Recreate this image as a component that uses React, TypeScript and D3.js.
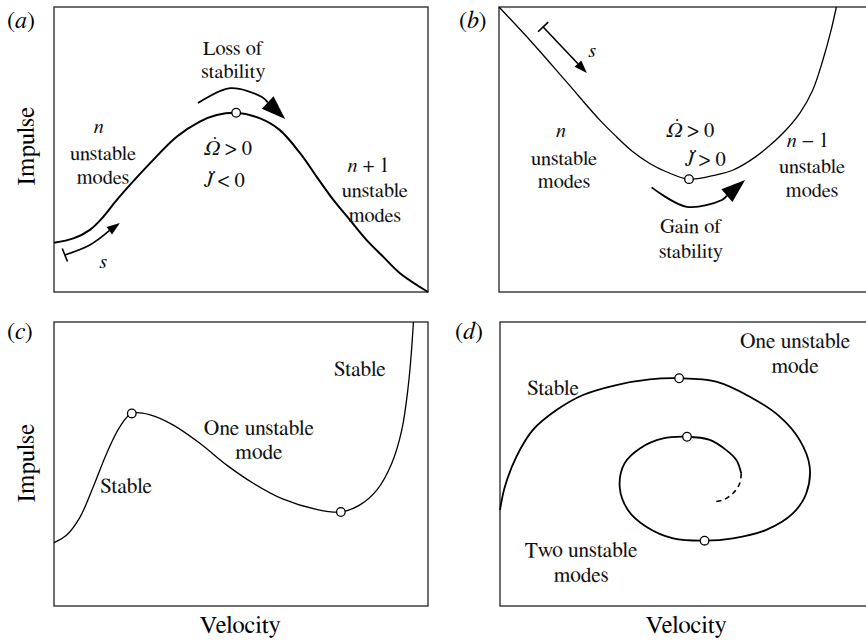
import React from "react";
import * as d3 from "d3";

type Pt = [number, number];

// Solution branches, in normalised (velocity, impulse) units 0–100 per panel
const branchA: Pt[] = [
  [0, 17.3], [5.2, 18.8], [9.6, 21.8], [13.2, 26.4], [16.8, 32.3], [25.7, 45.2],
  [32.8, 54.5], [39.0, 59.8], [43.5, 62.1], [48.7, 62.9], [55.1, 60.9], [60.4, 56.8],
  [65.8, 48.7], [70.2, 40.5], [74.7, 32.3], [79.1, 25.3], [83.6, 18.2], [88.0, 12.4],
  [92.5, 6.6], [100, 0],
];
const branchB: Pt[] = [
  [0, 100], [9.0, 87.3], [18.0, 73.8], [26.9, 60.4], [31.4, 54.5], [35.8, 49.2],
  [40.3, 45.1], [44.7, 42.2], [50.8, 39.6], [58.1, 41.1], [62.6, 42.8], [67.0, 46.0],
  [71.5, 50.4], [75.9, 55.7], [80.4, 62.7], [83.9, 70.9], [86.6, 81.4], [88.8, 91.9],
  [90.2, 100],
];
const branchC: Pt[] = [
  [0, 22.3], [3.4, 25.0], [7.0, 31.4], [10.5, 42.0], [14.1, 53.8], [17.6, 63.1],
  [20.8, 67.8], [25.7, 67.3], [31.9, 63.7], [39.0, 57.3], [46.2, 49.6], [53.3, 43.2],
  [61.3, 37.6], [70.2, 34.0], [76.7, 33.1], [81.8, 35.6], [86.3, 40.8], [90.3, 50.2],
  [93.0, 62.0], [94.7, 77.2], [95.6, 90.1], [96.1, 100],
];
const spiralD: Pt[] = [
  [0, 33.8], [1.3, 42.0], [4.4, 52.6], [8.8, 62.0], [15.1, 69.0], [22.2, 74.3],
  [31.1, 77.8], [40.0, 79.8], [47.9, 80.2], [57.8, 79.0], [66.8, 73.7], [74.8, 66.7],
  [80.1, 58.5], [82.8, 49.1], [81.9, 39.7], [78.3, 32.6], [71.2, 26.8], [62.3, 23.8],
  [54.7, 23.0], [46.3, 23.8], [39.1, 27.9], [34.2, 33.8], [32.0, 42.0], [33.3, 50.2],
  [37.4, 55.5], [43.6, 59.0], [50.0, 59.6], [56.1, 58.5], [60.5, 54.9], [63.2, 51.4],
  [64.5, 46.7],
];
const spiralDTail: Pt[] = [[64.5, 46.7], [64.1, 43.2], [62.3, 39.7], [59.6, 37.3], [57.4, 36.7]];

// Turning points (stability changes)
const turnsA: Pt[] = [[48.7, 62.9]];
const turnsB: Pt[] = [[50.8, 39.6]];
const turnsC: Pt[] = [[20.8, 67.8], [76.7, 33.1]];
const turnsD: Pt[] = [[47.9, 80.2], [54.7, 23.0], [50.0, 59.6]];

// Annotation arrows
const lossArrow: Pt[] = [[38.5, 66.3], [47.1, 71.5], [55.6, 68.4], [61.8, 60.7]];
const gainArrow: Pt[] = [[40.8, 36.7], [50.2, 29.9], [59.6, 32.3], [65.8, 39.3]];
const arcLengthA: Pt[] = [[2.9, 13.0], [9.6, 16.5], [17.6, 24.2]];
const arcLengthB: Pt[] = [[11.8, 93.0], [23.5, 76.8]];

const FONT = "FreeSerif, 'Liberation Serif', 'Times New Roman', serif";

interface Frame { x0: number; x1: number; y0: number; y1: number }
const frames: Record<string, Frame> = {
  a: { x0: 54, x1: 428, y0: 7, y1: 292 },
  b: { x0: 499, x1: 873, y0: 7, y1: 292 },
  c: { x0: 54, x1: 428, y0: 322, y1: 606 },
  d: { x0: 500, x1: 874, y0: 322, y1: 606 },
};

function scales(f: Frame) {
  const x = d3.scaleLinear().domain([0, 100]).range([f.x0, f.x1]);
  const y = d3.scaleLinear().domain([0, 100]).range([f.y1, f.y0]);
  return { x, y };
}

const lineGen = (x: d3.ScaleLinear<number, number>, y: d3.ScaleLinear<number, number>) =>
  d3.line<Pt>().x((d) => x(d[0])).y((d) => y(d[1])).curve(d3.curveCatmullRom.alpha(0.5));

function Arrow({ pts, f, len, hw, sw, tbar }: { pts: Pt[]; f: Frame; len: number; hw: number; sw: number; tbar?: boolean }) {
  const { x, y } = scales(f);
  const px: [number, number][] = pts.map((p) => [x(p[0]), y(p[1])]);
  const tip = px[px.length - 1];
  const prev = px[px.length - 2];
  const dx = tip[0] - prev[0], dy = tip[1] - prev[1];
  const L = Math.hypot(dx, dy);
  const ux = dx / L, uy = dy / L;
  const base: [number, number] = [tip[0] - ux * len, tip[1] - uy * len];
  const shaft = [...px.slice(0, -1), base];
  const path = d3.line().curve(d3.curveCatmullRom.alpha(0.5))(shaft as [number, number][]) || "";
  const head = [
    tip,
    [base[0] - uy * hw, base[1] + ux * hw],
    [base[0] + uy * hw, base[1] - ux * hw],
  ];
  let bar = null;
  if (tbar) {
    const s0 = px[0], s1 = px[1];
    const bx = s1[0] - s0[0], by = s1[1] - s0[1];
    const bl = Math.hypot(bx, by);
    const nx = -by / bl, ny = bx / bl;
    bar = (
      <line x1={s0[0] + nx * 7} y1={s0[1] + ny * 7} x2={s0[0] - nx * 7} y2={s0[1] - ny * 7}
        stroke="#000" strokeWidth={sw} />
    );
  }
  return (
    <g>
      <path d={path} fill="none" stroke="#000" strokeWidth={sw} />
      <polygon points={head.map((p) => p.join(",")).join(" ")} fill="#000" />
      {bar}
    </g>
  );
}

function Branch({ pts, f, sw, dash }: { pts: Pt[]; f: Frame; sw: number; dash?: string }) {
  const { x, y } = scales(f);
  return <path d={lineGen(x, y)(pts) || ""} fill="none" stroke="#000" strokeWidth={sw} strokeDasharray={dash} />;
}

function Turns({ pts, f }: { pts: Pt[]; f: Frame }) {
  const { x, y } = scales(f);
  return (
    <g>
      {pts.map((p, i) => (
        <circle key={i} cx={x(p[0])} cy={y(p[1])} r={4.3} fill="#fff" stroke="#000" strokeWidth={1.3} />
      ))}
    </g>
  );
}

function Label({ f, at, anchor = "middle", size = 20.5, children }: { f: Frame; at: Pt; anchor?: string; size?: number; children: React.ReactNode }) {
  const { x, y } = scales(f);
  return (
    <text x={x(at[0])} y={y(at[1])} textAnchor={anchor} fontSize={size} style={{ fontFamily: FONT }} fill="#111">
      {children}
    </text>
  );
}

function FrameRect({ f }: { f: Frame }) {
  return <rect x={f.x0} y={f.y0} width={f.x1 - f.x0} height={f.y1 - f.y0} fill="none" stroke="#333" strokeWidth={1.4} />;
}

const I = ({ children }: { children: React.ReactNode }) => <tspan fontStyle="italic">{children}</tspan>;

const txt = { fontFamily: FONT };
const LOW = 21.5;

export default function App() {
  const { a, b, c, d } = frames;
  return (
    <svg width={866} height={644} style={{ position: "absolute", left: 0, top: 0, background: "#fff" }}>
      <rect width={866} height={644} fill="#fff" />
      {/* panel letters */}
      <text x={7} y={28} fontSize={24} style={txt}>(<I>a</I>)</text>
      <text x={459} y={28} fontSize={24} style={txt}>(<I>b</I>)</text>
      <text x={7} y={339} fontSize={24} style={txt}>(<I>c</I>)</text>
      <text x={455} y={339} fontSize={24} style={txt}>(<I>d</I>)</text>

      {/* axis titles */}
      <text transform="translate(34,146) rotate(-90)" textAnchor="middle" fontSize={25} style={txt}>Impulse</text>
      <text transform="translate(34,463) rotate(-90)" textAnchor="middle" fontSize={25} style={txt}>Impulse</text>
      <text x={240} y={633} textAnchor="middle" fontSize={24.5} style={txt}>Velocity</text>
      <text x={686} y={633} textAnchor="middle" fontSize={24.5} style={txt}>Velocity</text>

      {/* (a) */}
      <FrameRect f={a} />
      <Branch pts={branchA} f={a} sw={2} />
      <Arrow pts={lossArrow} f={a} len={24} hw={8.5} sw={1.8} />
      <Arrow pts={arcLengthA} f={a} len={13} hw={4.6} sw={1.6} tbar />
      <Turns pts={turnsA} f={a} />
      <Label f={a} at={[12, 55.8]}><I>n</I></Label>
      <Label f={a} at={[13.1, 46.3]}>unstable</Label>
      <Label f={a} at={[13.1, 37.9]}>modes</Label>
      <Label f={a} at={[47.9, 83.2]}>Loss of</Label>
      <Label f={a} at={[47.9, 75.1]}>stability</Label>
      <Label f={a} at={[40.1, 48.1]} anchor="start"><I>{"\u03A9\u0307"}</I>{" > 0"}</Label>
      <Label f={a} at={[40.1, 36.8]} anchor="start"><I>{"J\u0308"}</I>{" < 0"}</Label>
      <Label f={a} at={[84.1, 42.1]}><I>n</I>{" + 1"}</Label>
      <Label f={a} at={[85.8, 33.3]}>unstable</Label>
      <Label f={a} at={[85.8, 24.6]}>modes</Label>
      <Label f={a} at={[13.1, 8.4]}><I>s</I></Label>

      {/* (b) */}
      <FrameRect f={b} />
      <Branch pts={branchB} f={b} sw={1.3} />
      <Arrow pts={gainArrow} f={b} len={24} hw={8.5} sw={1.8} />
      <Arrow pts={arcLengthB} f={b} len={13} hw={4.6} sw={1.6} tbar />
      <Turns pts={turnsB} f={b} />
      <Label f={b} at={[16.6, 54.4]}><I>n</I></Label>
      <Label f={b} at={[17.4, 44.6]}>unstable</Label>
      <Label f={b} at={[17.4, 36.5]}>modes</Label>
      <Label f={b} at={[44.7, 54.4]} anchor="start"><I>{"\u03A9\u0307"}</I>{" > 0"}</Label>
      <Label f={b} at={[49.7, 44.2]} anchor="start"><I>{"J\u0308"}</I>{" > 0"}</Label>
      <Label f={b} at={[82.6, 50.9]}><I>n</I>{" \u2212 1"}</Label>
      <Label f={b} at={[83.7, 41.8]}>unstable</Label>
      <Label f={b} at={[83.7, 33.3]}>modes</Label>
      <Label f={b} at={[51.3, 20.7]}>Gain of</Label>
      <Label f={b} at={[51.3, 11.9]}>stability</Label>
      <Label f={b} at={[24.9, 82.5]}><I>s</I></Label>

      {/* (c) */}
      <FrameRect f={c} />
      <Branch pts={branchC} f={c} sw={1.3} />
      <Turns pts={turnsC} f={c} />
      <Label f={c} at={[81.8, 81.0]} size={LOW}>Stable</Label>
      <Label f={c} at={[54.8, 60.2]} size={LOW}>One unstable</Label>
      <Label f={c} at={[54.8, 51.8]} size={LOW}>mode</Label>
      <Label f={c} at={[19.3, 39.8]} size={LOW}>Stable</Label>

      {/* (d) */}
      <FrameRect f={d} />
      <Branch pts={spiralD} f={d} sw={1.8} />
      <Branch pts={spiralDTail} f={d} sw={1.6} dash="5,4" />
      <Turns pts={turnsD} f={d} />
      <Label f={d} at={[78.9, 90.8]} size={LOW}>One unstable</Label>
      <Label f={d} at={[78.9, 82.0]} size={LOW}>mode</Label>
      <Label f={d} at={[14.2, 74.3]} size={LOW}>Stable</Label>
      <Label f={d} at={[21.7, 17.3]} size={LOW}>Two unstable</Label>
      <Label f={d} at={[21.7, 8.5]} size={LOW}>modes</Label>
    </svg>
  );
}
